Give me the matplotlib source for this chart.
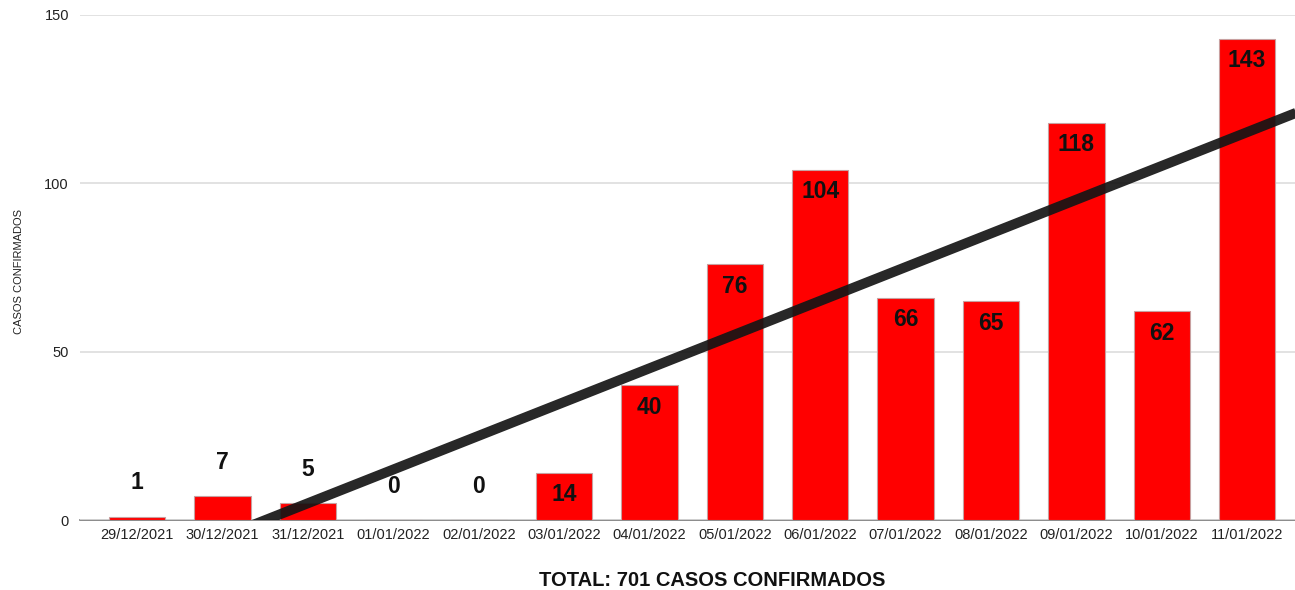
import numpy as np
import matplotlib
matplotlib.use("Agg")
import matplotlib.pyplot as plt

plt.rcParams['font.family'] = ['Liberation Sans', 'DejaVu Sans']

fechas = ["29/12/2021", "30/12/2021", "31/12/2021", "01/01/2022", "02/01/2022",
          "03/01/2022", "04/01/2022", "05/01/2022", "06/01/2022", "07/01/2022",
          "08/01/2022", "09/01/2022", "10/01/2022", "11/01/2022"]
casos = [1, 7, 5, 0, 0, 14, 40, 76, 104, 66, 65, 118, 62, 143]

x = np.arange(len(casos))

fig = plt.figure(figsize=(12.95, 5.9), dpi=100)
ax = fig.add_axes([80 / 1295, 70 / 590, 1 - 80 / 1295, 505 / 590])

ax.bar(x, casos, width=0.66, color="#ff0000", edgecolor="#c8a0a0", linewidth=0.8, zorder=2)

# linea de tendencia (regresion lineal)
m, b = np.polyfit(x, casos, 1)
xl = np.array([-0.7, 13.6])
ax.plot(xl, m * xl + b, color="#151515", alpha=0.92, linewidth=7.2,
        solid_capstyle="butt", zorder=3)

for xi, v in zip(x, casos):
    if v >= 14:
        ax.text(xi, v - 6.5, str(v), ha="center", va="center", fontsize=16.5,
                fontweight="bold", color="#111111", zorder=4)
    else:
        ax.text(xi, v + 10, str(v), ha="center", va="center", fontsize=16.5,
                fontweight="bold", color="#111111", zorder=4)

ax.set_xlim(-0.67, 13.56)
ax.set_ylim(0, 150)
ax.set_yticks([0, 50, 100, 150])
ax.set_xticks(x)
ax.set_xticklabels(fechas)
ax.tick_params(axis="both", length=0, labelsize=10.5, colors="#222222")
ax.tick_params(axis="y", pad=8)
ax.tick_params(axis="x", pad=6)
ax.grid(axis="y", color="#dddddd", linewidth=1.2, zorder=0)
for s in ["top", "right", "left"]:
    ax.spines[s].set_visible(False)
ax.spines["bottom"].set_color("#777777")
ax.spines["bottom"].set_linewidth(1.2)
ax.spines["bottom"].set_zorder(1)

fig.text(19 / 1295, 1 - 271 / 590, "CASOS CONFIRMADOS", rotation=90,
         ha="center", va="center", fontsize=8, color="#222222")
fig.text(712 / 1295, 1 - 580 / 590, "TOTAL: 701 CASOS CONFIRMADOS",
         ha="center", va="center", fontsize=14.5, fontweight="bold", color="#111111")

fig.savefig("out.png", dpi=100)
